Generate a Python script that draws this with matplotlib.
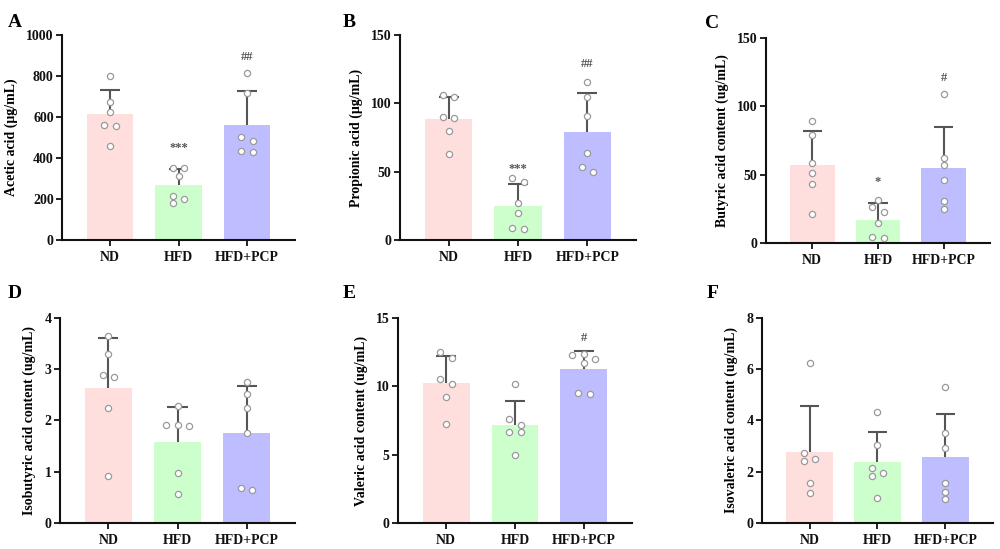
import numpy as np
import matplotlib
matplotlib.use("Agg")
import matplotlib.pyplot as plt

plt.rcParams['font.family'] = ['Liberation Serif', 'DejaVu Serif']
plt.rcParams['font.weight'] = 'bold'

groups = ["ND", "HFD", "HFD+PCP"]

# Panel A - Acetic acid
a_label = "Acetic acid (μg/mL)"
a_mean = [613, 267, 563]
a_sd = [117, 78, 164]
a_pts = [[800, 672, 626, 563, 558, 459],
         [350, 350, 312, 216, 202, 180],
         [815, 717, 504, 485, 436, 431]]
a_sig = ["", "***", "##"]
a_sig_y = [None, 447, 894]
a_ticks = [0, 200, 400, 600, 800, 1000]

# Panel B - Propionic acid
b_label = "Propionic acid (μg/mL)"
b_mean = [88.5, 24.9, 79.3]
b_sd = [16.4, 16.3, 28.3]
b_pts = [[104.9, 105.9, 89.0, 90.0, 79.8, 62.7],
         [42.2, 45.1, 26.8, 19.5, 8.0, 9.0],
         [115.9, 104.4, 90.7, 63.4, 49.5, 53.2]]
b_sig = ["", "***", "##"]
b_sig_y = [None, 52, 128.8]
b_ticks = [0, 50, 100, 150]

# Panel C - Butyric acid
c_label = "Butyric acid content (ug/mL)"
c_mean = [57.1, 16.8, 54.9]
c_sd = [24.9, 12.2, 30.2]
c_pts = [[89.5, 79.0, 58.5, 51.5, 42.9, 21.2],
         [31.7, 26.3, 22.7, 14.6, 3.7, 4.1],
         [108.8, 62.2, 57.1, 46.3, 30.7, 24.6]]
c_sig = ["", "*", "#"]
c_sig_y = [None, 44.6, 121]
c_ticks = [0, 50, 100, 150]

# Panel D - Isobutyric acid
d_label = "Isobutyric acid content (ug/mL)"
d_mean = [2.64, 1.58, 1.76]
d_sd = [0.97, 0.68, 0.92]
d_pts = [[3.64, 3.30, 2.85, 2.89, 2.24, 0.91],
         [2.28, 1.91, 1.91, 1.89, 0.98, 0.56],
         [2.76, 2.52, 2.24, 1.76, 0.64, 0.68]]
d_sig = ["", "", ""]
d_sig_y = [None, None, None]
d_ticks = [0, 1, 2, 3, 4]

# Panel E - Valeric acid
e_label = "Valeric acid content (ug/mL)"
e_mean = [10.24, 7.2, 11.24]
e_sd = [1.98, 1.73, 1.37]
e_pts = [[12.54, 12.07, 10.54, 10.2, 9.2, 7.22],
         [10.2, 7.6, 7.17, 6.66, 6.66, 4.95],
         [12.36, 12.29, 12.0, 11.70, 9.44, 9.51]]
e_sig = ["", "", "#"]
e_sig_y = [None, None, 13.5]
e_ticks = [0, 5, 10, 15]

# Panel F - Isovaleric acid
f_label = "Isovaleric acid content (ug/mL)"
f_mean = [2.77, 2.38, 2.56]
f_sd = [1.81, 1.16, 1.69]
f_pts = [[6.24, 2.73, 2.51, 2.41, 1.56, 1.17],
         [4.32, 3.04, 1.96, 2.15, 1.82, 0.99],
         [5.31, 3.52, 2.93, 1.56, 1.21, 0.95]]
f_sig = ["", "", ""]
f_sig_y = [None, None, None]
f_ticks = [0, 2, 4, 6, 8]

bar_colors = ["#FFDEDE", "#CCFFCC", "#BDBDFF"]
err_color = "#555555"

panels = [
    ("A", a_label, a_mean, a_sd, a_pts, a_sig, a_sig_y, a_ticks, [0.062, 0.5628, 0.233, 0.3734], (0.008, 0.975)),
    ("B", b_label, b_mean, b_sd, b_pts, b_sig, b_sig_y, b_ticks, [0.400, 0.5628, 0.236, 0.3734], (0.343, 0.975)),
    ("C", c_label, c_mean, c_sd, c_pts, c_sig, c_sig_y, c_ticks, [0.766, 0.5574, 0.224, 0.3734], (0.705, 0.972)),
    ("D", d_label, d_mean, d_sd, d_pts, d_sig, d_sig_y, d_ticks, [0.060, 0.0474, 0.235, 0.3734], (0.008, 0.481)),
    ("E", e_label, e_mean, e_sd, e_pts, e_sig, e_sig_y, e_ticks, [0.398, 0.0474, 0.234, 0.3734], (0.343, 0.481)),
    ("F", f_label, f_mean, f_sd, f_pts, f_sig, f_sig_y, f_ticks, [0.762, 0.0474, 0.231, 0.3734], (0.707, 0.481)),
]

fig = plt.figure(figsize=(10, 5.49), dpi=100)


def swarm_offsets(vals, px_per_unit, d):
    """Prism-like column scatter: spread colliding points horizontally."""
    vals = np.asarray(vals, dtype=float)
    diam = 6.6  # px
    dx_px = 11.5
    order = list(np.argsort(-vals))
    offs = np.zeros(len(vals))
    clusters, cur = [], [order[0]]
    for i in order[1:]:
        if (vals[cur[-1]] - vals[i]) * px_per_unit < diam:
            cur.append(i)
        else:
            clusters.append(cur)
            cur = [i]
    clusters.append(cur)

    def greedy(cl, cands):
        placed = []
        for i in cl:
            for c in cands:
                ok = True
                for (j, cj) in placed:
                    dy = (vals[i] - vals[j]) * px_per_unit
                    dxp = (c - cj) * dx_px
                    if np.hypot(dy, dxp) < diam:
                        ok = False
                        break
                if ok:
                    placed.append((i, c))
                    break
        return placed

    gridA = [0, -1, 1, -2, 2, -3, 3]
    gridB = [-0.5, 0.5, -1.5, 1.5, -2.5, 2.5]
    for cl in clusters:
        if len(cl) == 1:
            continue
        pa = greedy(cl, gridA)
        pb = greedy(cl, gridB)
        sa = (max(abs(c) for _, c in pa), sum(abs(c) for _, c in pa))
        sb = (max(abs(c) for _, c in pb), sum(abs(c) for _, c in pb))
        best = pa if sa <= sb else pb
        for i, c in best:
            offs[i] = c * d
    return offs


for letter, ylab, mean, sd, pts, sig, sig_y, ticks, rect, lpos in panels:
    ax = fig.add_axes(rect)
    x = np.arange(len(groups))
    mean = np.asarray(mean, dtype=float)
    top = mean + np.asarray(sd, dtype=float)
    ax.bar(x, mean, width=0.68, color=bar_colors, zorder=1)
    ax.vlines(x, mean, top, color=err_color, linewidth=1.5, zorder=2)
    ax.hlines(top, x - 0.145, x + 0.145, color=err_color, linewidth=1.5, zorder=2)
    ymax = ticks[-1]
    px_per_unit = rect[3] * 549 / ymax
    unit_w = rect[2] * 1000 / 3.4
    for i, p in enumerate(pts):
        offs = swarm_offsets(p, px_per_unit, 11.5 / unit_w)
        ax.scatter(i + offs, p, s=20, facecolor='white', edgecolor='#9a9a9a',
                   linewidth=0.9, zorder=3, clip_on=False)
    for i, (s, yy) in enumerate(zip(sig, sig_y)):
        if s:
            ax.text(i, yy, s, ha='center', va='center', fontsize=9,
                    color=err_color, fontweight='bold')
    ax.set_xlim(-0.7, 2.7)
    ax.set_ylim(0, ymax)
    ax.set_yticks(ticks)
    ax.set_yticklabels([str(t) for t in ticks])
    ax.set_xticks(x)
    ax.set_xticklabels(groups)
    for sp in ['top', 'right']:
        ax.spines[sp].set_visible(False)
    for sp in ['left', 'bottom']:
        ax.spines[sp].set_linewidth(1.5)
        ax.spines[sp].set_color('#111111')
    ax.tick_params(axis='both', direction='out', length=4, width=1.3,
                   labelsize=10, colors='#111111', pad=2)
    ax.tick_params(axis='x', pad=4)
    for lab in ax.get_xticklabels() + ax.get_yticklabels():
        lab.set_fontweight('bold')
    ax.set_ylabel(ylab, fontsize=10, fontweight='bold', labelpad=6)
    fig.text(lpos[0], lpos[1], letter, fontsize=14, fontweight='bold',
             ha='left', va='top')

fig.savefig("out.png", dpi=100)
